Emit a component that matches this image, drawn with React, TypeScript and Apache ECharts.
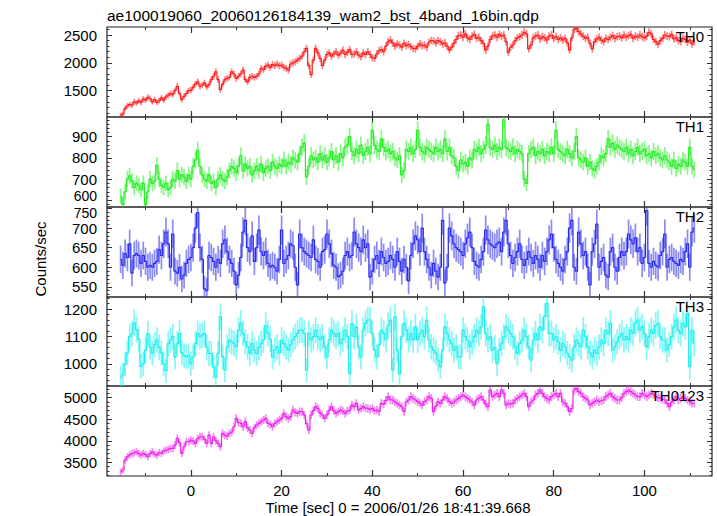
import React, { useEffect, useRef } from "react";
import * as echarts from "echarts";

const TITLE = "ae100019060_20060126184139_wam2_bst_4band_16bin.qdp";
const X_NAME = "Time [sec] 0 = 2006/01/26 18:41:39.668";
const Y_NAME = "Counts/sec";
const T_START = -15.5;
const BIN = 0.5;
const X_MIN = -18.5;
const X_MAX = 114.9;
const X_MAJOR = [0, 20, 40, 60, 80, 100];
const X_MINOR = [-10, 10, 30, 50, 70, 90, 110];

const TH0 = [
  1060, 1080, 1180, 1230, 1250, 1240, 1300, 1280, 1320, 1290,
  1350, 1330, 1380, 1360, 1300, 1340, 1290, 1320, 1370, 1330,
  1390, 1420, 1450, 1430, 1500, 1580, 1450, 1340, 1400, 1450,
  1500, 1510, 1560, 1620, 1660, 1580, 1600, 1640, 1570, 1610,
  1700, 1760, 1840, 1700, 1520, 1620, 1700, 1720, 1740, 1840,
  1800, 1720, 1760, 1800, 1870, 1700, 1660, 1740, 1760, 1740,
  1760, 1800, 1900, 1880, 1940, 1960, 1920, 1970, 1950, 1980,
  1950, 1960, 1920, 1900, 1870, 1980, 2000, 2020, 2050, 2080,
  2120, 2200, 2260, 1950, 1790, 2050, 2260, 2180, 2080, 1950,
  2050, 2150, 2180, 2120, 2160, 2200, 2140, 2170, 2230, 2150,
  2190, 2240, 2150, 2160, 2200, 2140, 2110, 2180, 2150, 2200,
  2150, 2090, 2080, 2160, 2220, 2240, 2200, 2300, 2380, 2410,
  2360, 2300, 2340, 2320, 2280, 2350, 2310, 2330, 2290, 2260,
  2250, 2300, 2340, 2310, 2320, 2280, 2370, 2400, 2390, 2360,
  2400, 2380, 2340, 2360, 2300, 2230, 2280, 2350, 2420, 2490,
  2500, 2460, 2520, 2450, 2420, 2480, 2510, 2440, 2460, 2400,
  2350, 2230, 2300, 2420, 2480, 2500, 2460, 2510, 2480, 2500,
  2380, 2190, 2280, 2320, 2400, 2450, 2470, 2500, 2550, 2520,
  2250, 2320, 2450, 2480, 2500, 2430, 2470, 2450, 2410, 2480,
  2500, 2440, 2470, 2420, 2450, 2410, 2440, 2360, 2230, 2450,
  2600, 2620, 2560, 2520, 2480, 2440, 2460, 2350, 2250, 2380,
  2430, 2460, 2410, 2380, 2440, 2420, 2460, 2490, 2440, 2470,
  2480, 2450, 2500, 2460, 2490, 2510, 2440, 2480, 2460, 2500,
  2470, 2450, 2480, 2550, 2520, 2420, 2380, 2330, 2400, 2440,
  2500, 2480, 2470, 2510, 2430, 2450, 2400, 2380, 2440, 2420,
  2370, 2410, 2340, 2380,
];

const TH1 = [
  620, 580, 640, 700, 715, 690, 660, 680, 670, 650,
  680, 580, 640, 700, 680, 690, 765, 700, 670, 660,
  680, 650, 660, 700, 690, 740, 700, 720, 710, 690,
  720, 700, 760, 790, 835, 760, 720, 700, 690, 720,
  680, 690, 660, 700, 720, 700, 690, 710, 740, 760,
  750, 730, 760, 810, 740, 770, 750, 760, 720, 740,
  760, 740, 770, 730, 750, 760, 740, 780, 760, 750,
  770, 760, 790, 760, 780, 770, 800, 790, 780, 820,
  850, 870, 710, 760, 810, 790, 800, 780, 820, 790,
  810, 780, 800, 830, 790, 810, 780, 820, 800, 850,
  860, 900, 830, 810, 840, 820, 860, 810, 830, 850,
  820, 930, 860, 840, 830, 890, 850, 830, 840, 820,
  830, 800, 790, 810, 720, 740, 840, 830, 850, 820,
  840, 930, 850, 830, 820, 850, 840, 830, 820, 850,
  830, 840, 820, 890, 830, 850, 810, 800, 760, 740,
  790, 770, 780, 760, 800, 790, 840, 830, 850, 820,
  840, 860, 960, 850, 840, 860, 830, 850, 840, 980,
  850, 840, 830, 850, 820, 840, 830, 820, 700, 680,
  820, 840, 850, 810, 830, 820, 840, 810, 830, 820,
  850, 820, 930, 840, 830, 820, 810, 840, 820, 800,
  830, 900, 800, 790, 780, 800, 760, 780, 750, 740,
  760, 780, 810, 800, 820, 890, 850, 870, 840, 860,
  850, 840, 830, 850, 820, 840, 810, 830, 850, 820,
  830, 840, 810, 820, 800, 830, 810, 820, 800, 790,
  810, 790, 780, 760, 790, 750, 770, 760, 790, 780,
  760, 850, 760, 745,
];

const TH2 = [
  620, 605, 635, 625, 660, 585, 630, 635, 630, 610,
  630, 615, 600, 605, 600, 610, 615, 645, 630, 660,
  690, 660, 600, 685, 590, 585, 600, 570, 580, 610,
  620, 625, 650, 700, 740, 650, 620, 545, 540, 630,
  625, 615, 600, 620, 610, 660, 670, 640, 620, 610,
  590, 555, 580, 625, 690, 720, 650, 640, 680, 615,
  650, 695, 640, 630, 640, 610, 600, 605, 600, 590,
  620, 695, 610, 620, 630, 660, 655, 600, 555, 685,
  650, 640, 635, 630, 625, 670, 620, 615, 600, 640,
  645, 685, 660, 635, 605, 600, 576, 580, 590, 630,
  640, 625, 630, 690, 660, 650, 640, 670, 650, 660,
  575, 590, 620, 630, 610, 640, 625, 610, 615, 630,
  620, 600, 640, 615, 590, 620, 600, 565, 630, 660,
  680, 670, 640, 700, 640, 620, 600, 580, 610, 590,
  575, 600, 720, 560, 600, 700, 680, 660, 650, 645,
  640, 630, 660, 675, 690, 650, 615, 605, 600, 620,
  640, 695, 670, 660, 655, 650, 660, 665, 640, 690,
  720, 660, 630, 610, 625, 640, 660, 620, 605, 620,
  640, 625, 610, 630, 620, 600, 630, 615, 640, 670,
  685, 650, 620, 610, 600, 590, 620, 640, 700, 720,
  600, 590, 690, 660, 630, 640, 600, 555, 640, 660,
  710, 600, 615, 625, 580, 575, 640, 650, 600, 590,
  625, 640, 630, 640, 685, 670, 660, 675, 640, 650,
  610, 625, 745, 610, 600, 615, 605, 600, 630, 640,
  685, 600, 620, 625, 615, 610, 605, 620, 615, 640,
  660, 600, 690, 700,
];

const TH3 = [
  950, 960, 1000, 1040, 1100, 1110, 1150, 1125, 1090, 990,
  1000, 1050, 1110, 1062, 1040, 1070, 1087, 1060, 1040, 1000,
  975, 1074, 1087, 1099, 1025, 1074, 1111, 1040, 1030, 1025,
  1030, 1001, 1025, 1074, 1111, 1099, 1105, 1111, 1060, 1038,
  1038, 989, 952, 1038, 1172, 1025, 977, 1062, 1087, 1080,
  1074, 1062, 1123, 1148, 1111, 1080, 1062, 1038, 1074, 1050,
  1038, 1060, 1074, 1087, 1140, 1111, 1090, 1025, 1050, 1062,
  1040, 1087, 1074, 1062, 1050, 1070, 1087, 1099, 1111, 1123,
  1123, 1111, 977, 1111, 1087, 1099, 1123, 1099, 1087, 1099,
  1062, 1025, 1087, 1123, 1111, 1100, 1111, 1074, 1090, 1123,
  1100, 964, 1148, 1099, 1135, 1062, 1025, 1123, 1148, 1160,
  1160, 1110, 1050, 1025, 1070, 1123, 1111, 1087, 1140, 1160,
  977, 1172, 1050, 964, 1099, 1148, 1123, 1087, 1111, 1087,
  1135, 1087, 1111, 1123, 1099, 1160, 1087, 1062, 1050, 1040,
  1013, 989, 1050, 1135, 1111, 1087, 1074, 1050, 1062, 1025,
  1025, 1123, 1100, 1087, 1062, 1080, 1099, 1123, 1111, 1135,
  1209, 1111, 1087, 1099, 1050, 1060, 1001, 1050, 1074, 1099,
  1135, 1123, 1111, 1099, 1062, 1038, 1074, 1087, 1123, 1099,
  1062, 1013, 1087, 1111, 1087, 1135, 1123, 1172, 1221, 1111,
  1111, 1087, 1099, 1080, 1050, 1074, 1062, 1038, 1025, 1013,
  1062, 1087, 1074, 1062, 1123, 1099, 1062, 1040, 1025, 1050,
  1038, 1062, 1087, 1074, 1123, 1110, 1148, 1050, 1062, 1080,
  1099, 1111, 1087, 1099, 1087, 1123, 1111, 1148, 1160, 1123,
  1135, 1111, 1062, 1099, 1123, 1111, 1140, 1148, 1099, 1087,
  1087, 1050, 1070, 1099, 1135, 1160, 1123, 1111, 1148, 1135,
  1184, 989, 1123, 1074,
];

const TH0123 = [
  3280, 3320, 3550, 3630, 3670, 3700, 3720, 3745, 3700, 3667,
  3706, 3680, 3629, 3700, 3745, 3690, 3667, 3720, 3706, 3760,
  3784, 3800, 3822, 3822, 3900, 4055, 3950, 3706, 3861, 3977,
  3977, 4016, 3990, 3939, 4050, 4094, 4094, 4040, 3939, 4133,
  3939, 4094, 4000, 3939, 3861, 4172, 4133, 4110, 4172, 4200,
  4326, 4520, 4420, 4404, 4326, 4443, 4300, 4249, 4172, 4300,
  4365, 4404, 4443, 4481, 4520, 4404, 4380, 4326, 4404, 4443,
  4481, 4520, 4636, 4560, 4520, 4559, 4714, 4660, 4636, 4675,
  4675, 4600, 4400, 4249, 4598, 4700, 4792, 4753, 4640, 4598,
  4520, 4600, 4714, 4792, 4700, 4636, 4675, 4714, 4690, 4636,
  4690, 4714, 4830, 4792, 4869, 4714, 4753, 4792, 4760, 4753,
  4730, 4753, 4700, 4714, 4680, 4869, 4850, 4940, 5024, 4950,
  4947, 4900, 4869, 4830, 4792, 4675, 4900, 4947, 5024, 4985,
  4947, 4908, 4869, 4830, 4908, 4947, 5024, 4985, 4675, 4800,
  4908, 4869, 4947, 5024, 4985, 4908, 4869, 4900, 4947, 4985,
  5024, 5063, 5024, 4985, 4947, 4900, 4830, 4947, 4985, 5024,
  4947, 4850, 4792, 5179, 5024, 5063, 5102, 5024, 5179, 5102,
  4830, 4869, 4850, 4869, 4947, 4985, 5024, 5063, 5102, 5024,
  4792, 4900, 4947, 5063, 5102, 5179, 5100, 5024, 4985, 4947,
  5024, 5063, 5102, 5024, 5102, 4900, 4869, 4792, 4675, 4750,
  5179, 5218, 5140, 5102, 5024, 4985, 4950, 4830, 4869, 4908,
  4947, 4908, 4930, 4947, 5024, 5063, 5102, 5024, 4985, 4947,
  4947, 5000, 5102, 5140, 5179, 5140, 5102, 5063, 5024, 5024,
  5102, 5063, 5024, 5063, 5102, 5080, 5024, 5000, 4985, 4960,
  4947, 4870, 4792, 4900, 4947, 5024, 4947, 4985, 5024, 4985,
  4947, 4908, 4869, 4869,
];

const range = (a: number, b: number, s: number) => {
  const out: number[] = [];
  for (let v = a; v <= b + 1e-9; v += s) out.push(v);
  return out;
};

// labels at the panel joins are nudged (as in the reference) so that they do not collide
const PANELS = [
  { label: "TH0", values: TH0, color: "#ff1a1a", min: 1028, max: 2644, major: [1500, 2000, 2500], nudged: [] as number[][], minor: range(1100, 2600, 100) },
  { label: "TH1", values: TH1, color: "#22ee22", min: 568, max: 993, major: [600, 700, 800, 900], nudged: [[600, -4]], minor: range(580, 980, 20) },
  { label: "TH2", values: TH2, color: "#2a2aee", min: 524, max: 754, major: [550, 600, 650, 700, 750], nudged: [[750, 4]], minor: range(530, 750, 10) },
  { label: "TH3", values: TH3, color: "#22eeee", min: 919, max: 1244, major: [1000, 1100, 1200], nudged: [] as number[][], minor: range(920, 1240, 20) },
  { label: "TH0123", values: TH0123, color: "#ee22ee", min: 3182, max: 5272, major: [3500, 4000, 4500, 5000], nudged: [] as number[][], minor: range(3200, 5200, 100) },
];

const GRID_TOPS = [27, 117, 207, 297, 386];
const GRID_BOTTOM = 476;
const FONT = "'Liberation Sans', Arial, Helvetica, sans-serif";
const FS = 15;

export default function App() {
  const ref = useRef<HTMLDivElement>(null);
  useEffect(() => {
    if (!ref.current) return;
    const chart = echarts.init(ref.current, undefined, { renderer: "svg" });
    const grids: any[] = [];
    const xAxes: any[] = [];
    const yAxes: any[] = [];
    const series: any[] = [];
    const graphics: any[] = [];
    const tickColor = "#333";
    const plain = (v: number) => String(Math.round(v));

    PANELS.forEach((p, i) => {
      const top = GRID_TOPS[i];
      const bottom = i < 4 ? GRID_TOPS[i + 1] : GRID_BOTTOM;
      const h = bottom - top;
      grids.push({
        left: 107,
        right: 5,
        top,
        height: h,
        show: true,
        borderColor: "#222",
        borderWidth: 1.2,
        backgroundColor: "transparent",
      });
      const xBase = {
        gridIndex: i,
        type: "value",
        min: X_MIN,
        max: X_MAX,
        axisLine: { show: false, onZero: false },
        splitLine: { show: false },
      };
      xAxes.push({
        ...xBase,
        position: "bottom",
        axisTick: { show: true, inside: true, length: 6, customValues: X_MAJOR, lineStyle: { color: tickColor, width: 1.2 } },
        axisLabel: { show: i === 4, customValues: X_MAJOR, formatter: plain, color: "#000", fontSize: FS, fontFamily: FONT, margin: 7 },
      });
      xAxes.push({
        ...xBase,
        position: "bottom",
        axisTick: { show: true, inside: true, length: 3, customValues: X_MINOR, lineStyle: { color: tickColor } },
        axisLabel: { show: false },
      });
      xAxes.push({
        ...xBase,
        position: "top",
        axisTick: { show: true, inside: true, length: 6, customValues: X_MAJOR, lineStyle: { color: tickColor, width: 1.2 } },
        axisLabel: { show: false },
      });
      xAxes.push({
        ...xBase,
        position: "top",
        axisTick: { show: true, inside: true, length: 3, customValues: X_MINOR, lineStyle: { color: tickColor } },
        axisLabel: { show: false },
      });
      const yBase = {
        gridIndex: i,
        type: "value",
        min: p.min,
        max: p.max,
        axisLine: { show: false, onZero: false },
        splitLine: { show: false },
      };
      const nudgedValues = p.nudged.map((n) => n[0]);
      const labelled = p.major.filter((v) => !nudgedValues.includes(v));
      yAxes.push({
        ...yBase,
        position: "left",
        axisTick: { show: true, inside: true, length: 5, customValues: p.major, lineStyle: { color: tickColor } },
        axisLabel: { show: true, customValues: labelled, formatter: plain, color: "#000", fontSize: FS, fontFamily: FONT, margin: 10 },
      });
      yAxes.push({
        ...yBase,
        position: "left",
        axisTick: { show: true, inside: true, length: 2.5, customValues: p.minor, lineStyle: { color: tickColor } },
        axisLabel: { show: false },
      });
      yAxes.push({
        ...yBase,
        position: "right",
        axisTick: { show: true, inside: true, length: 5, customValues: p.major, lineStyle: { color: tickColor } },
        axisLabel: { show: false },
      });
      yAxes.push({
        ...yBase,
        position: "right",
        axisTick: { show: true, inside: true, length: 2.5, customValues: p.minor, lineStyle: { color: tickColor } },
        axisLabel: { show: false },
      });
      p.nudged.forEach(([v, dy]) => {
        const y = top + ((p.max - v) / (p.max - p.min)) * h + dy;
        graphics.push({
          type: "text",
          x: 97,
          y,
          style: { text: plain(v), fill: "#000", font: `14px ${FONT}`, align: "right", verticalAlign: "middle" },
        });
      });

      const pts = p.values.map((v, k) => [T_START + k * BIN, v, Math.sqrt(v / BIN)]);
      const color = p.color;
      series.push({
        type: "custom",
        xAxisIndex: i * 4,
        yAxisIndex: i * 4,
        data: pts,
        clip: true,
        silent: true,
        renderItem: (_params: any, api: any) => {
          const x = api.value(0);
          const y = api.value(1);
          const e = api.value(2);
          const a = api.coord([x, y - e]);
          const b = api.coord([x, y + e]);
          return {
            type: "line",
            shape: { x1: a[0], y1: a[1], x2: b[0], y2: b[1] },
            style: { stroke: color, lineWidth: 1.7, opacity: 0.55 },
          };
        },
      });
      series.push({
        type: "line",
        xAxisIndex: i * 4,
        yAxisIndex: i * 4,
        data: pts.map((d) => [d[0], d[1]]),
        step: "middle",
        symbol: "none",
        clip: true,
        silent: true,
        lineStyle: { color, width: 1.2 },
      });
      graphics.push({
        type: "text",
        right: 13,
        top: top + 2,
        style: { text: p.label, fill: "#000", font: `${FS}px ${FONT}` },
        z: 100,
      });
    });

    graphics.push({
      type: "text",
      left: 107,
      top: 7,
      style: { text: TITLE, fill: "#000", font: `15.5px ${FONT}` },
    });
    graphics.push({
      type: "text",
      x: 398,
      y: 507,
      style: { text: X_NAME, fill: "#000", font: `${FS}px ${FONT}`, align: "center", verticalAlign: "middle" },
    });
    graphics.push({
      type: "text",
      x: 40,
      y: 259,
      rotation: Math.PI / 2,
      style: { text: Y_NAME, fill: "#000", font: `${FS}px ${FONT}`, align: "center", verticalAlign: "middle" },
    });

    chart.setOption({
      animation: false,
      backgroundColor: "#fff",
      grid: grids,
      xAxis: xAxes,
      yAxis: yAxes,
      series,
      graphic: graphics,
    });
    return () => chart.dispose();
  }, []);
  return <div ref={ref} style={{ position: "fixed", left: 0, top: 0, width: 717, height: 516, background: "#fff" }} />;
}
